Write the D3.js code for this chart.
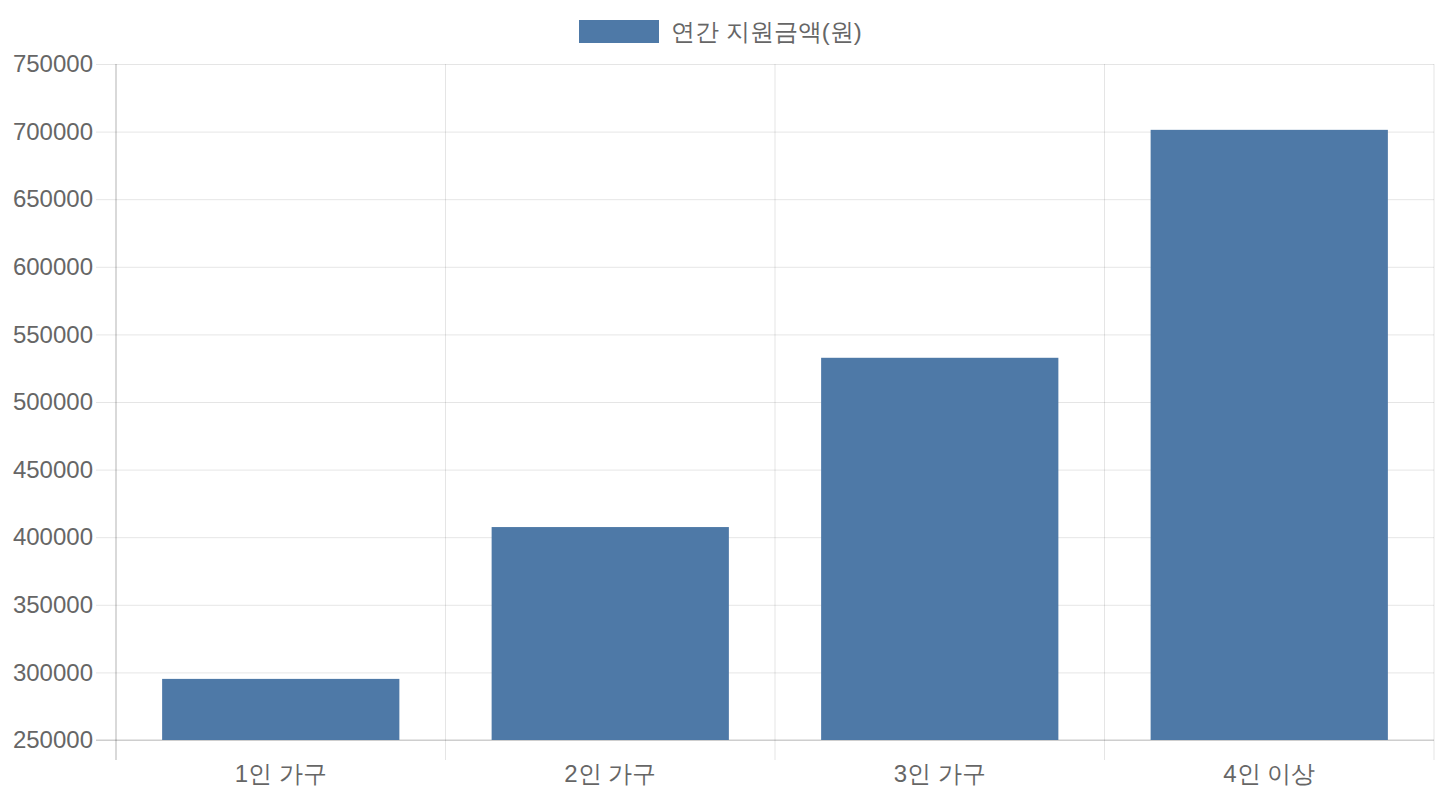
<!DOCTYPE html>
<html>
<head>
<meta charset="utf-8">
<script src="https://cdn.jsdelivr.net/npm/d3@7"></script>
<style>
  body { margin: 0; background: #fff; }
  svg text { font-family: "Helvetica Neue", Helvetica, Arial, sans-serif; fill: #666; }
</style>
</head>
<body>
<svg id="chart" width="1440" height="800"></svg>
<script>
// household sizes and yearly support amount (won)
const categories = ["1인 가구", "2인 가구", "3인 가구", "4인 이상"];
const amounts = [295200, 407500, 532700, 701300];
const yTicks = [250000, 300000, 350000, 400000, 450000, 500000, 550000, 600000, 650000, 700000, 750000];
const seriesName = "연간 지원금액(원)";
const barColor = "#4e79a7";

const svg = d3.select("#chart");
const margin = { top: 64, right: 6, bottom: 60, left: 116 };
const W = 1440, H = 800;
const plotW = W - margin.left - margin.right;
const plotH = H - margin.top - margin.bottom;

const x = d3.scaleBand()
    .domain(categories)
    .range([margin.left, margin.left + plotW])
    .paddingInner(0.28)
    .paddingOuter(0.14);

const y = d3.scaleLinear()
    .domain([250000, 750000])
    .range([margin.top + plotH, margin.top]);

// horizontal grid + y tick labels
const yAxis = d3.axisLeft(y)
    .tickValues(yTicks)
    .tickSize(-(plotW + 20))
    .tickPadding(3)
    .tickFormat(d3.format("d"));

const gy = svg.append("g")
    .attr("transform", "translate(" + (margin.left - 20) + ",0)")
    .call(yAxis);
gy.select(".domain").remove();
gy.selectAll(".tick line").attr("stroke", "rgba(0,0,0,0.1)").attr("stroke-width", 1);
gy.selectAll(".tick text").style("font-size", "24px").attr("fill", "#666");

// vertical grid at category boundaries
const step = x.step();
const bounds = d3.range(categories.length + 1).map(i => margin.left + i * step);
svg.append("g").selectAll("line")
    .data(bounds)
    .join("line")
    .attr("x1", d => d).attr("x2", d => d)
    .attr("y1", margin.top).attr("y2", margin.top + plotH + 20)
    .attr("stroke", (d, i) => i === 0 ? "rgba(0,0,0,0.3)" : "rgba(0,0,0,0.1)")
    .attr("stroke-width", 1);

// x axis line
svg.append("line")
    .attr("x1", margin.left - 20).attr("x2", margin.left + plotW)
    .attr("y1", y(250000)).attr("y2", y(250000))
    .attr("stroke", "rgba(0,0,0,0.2)");

// bars
svg.append("g").selectAll("rect")
    .data(amounts)
    .join("rect")
    .attr("x", (d, i) => x(categories[i]))
    .attr("width", x.bandwidth())
    .attr("y", d => y(d))
    .attr("height", d => y(250000) - y(d))
    .attr("fill", barColor);

// x labels
svg.append("g").selectAll("text")
    .data(categories)
    .join("text")
    .attr("x", d => x(d) + x.bandwidth() / 2)
    .attr("y", margin.top + plotH + 34)
    .attr("dy", "0.35em")
    .attr("text-anchor", "middle")
    .style("font-size", "24px")
    .text(d => d);

// legend
const legend = svg.append("g").attr("transform", "translate(579,20)");
legend.append("rect")
    .attr("width", 80).attr("height", 23)
    .attr("fill", barColor);
legend.append("text")
    .attr("x", 92).attr("y", 12)
    .attr("dy", "0.35em")
    .style("font-size", "24px")
    .text(seriesName);
</script>
</body>
</html>
